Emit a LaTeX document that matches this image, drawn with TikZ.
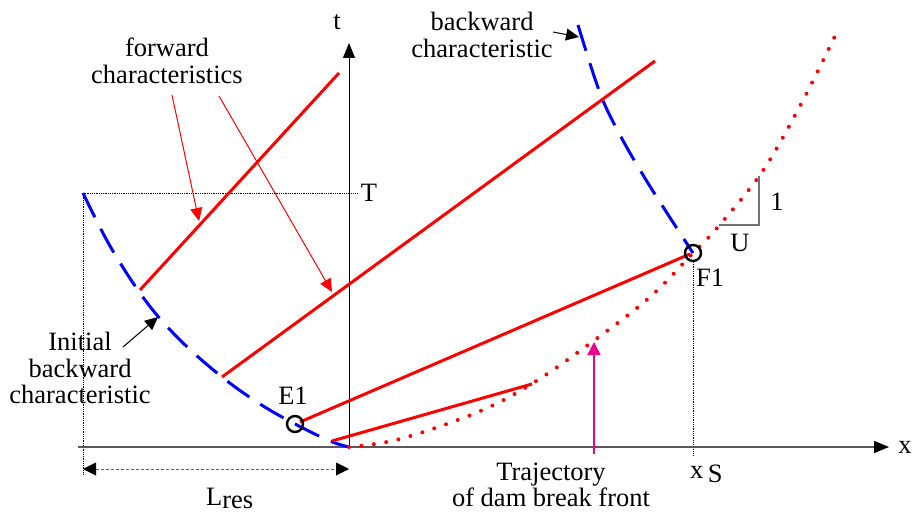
\documentclass[tikz,border=0pt]{standalone}
\usepackage{fontspec}
\setmainfont{Liberation Serif}
\newfontfamily\lserif{Liberation Serif}
\usetikzlibrary{arrows.meta}
\begin{document}
\begin{tikzpicture}[x=1pt,y=-1pt,
  lbl/.style={font=\lserif\fontsize{26.5}{26.5}\selectfont, inner sep=0pt, align=center},
  fwd/.style={red, line width=3pt},
  bwd/.style={blue, line width=3pt, dash pattern=on 27pt off 13pt},
  traj/.style={red, line width=4pt, dash pattern=on 0pt off 12.5pt, line cap=round},
  axisline/.style={line width=1pt, -{Triangle[length=15pt,width=12pt,color=black]}},
  guide/.style={black, line width=0.8pt, densely dotted},
  ptr/.style={red, line width=1pt, -{Triangle[length=13pt,width=12pt]}},
  bptr/.style={black, line width=1pt, -{Triangle[length=13pt,width=12pt]}},
  mark circle/.style={draw=black, line width=2.4pt, circle, minimum size=16pt, inner sep=0pt},
  slope/.style={black!55, line width=1.5pt}
]
\useasboundingbox (0,0) rectangle (915,513);

% key points
\coordinate (O) at (349,447);
\coordinate (xstart) at (78,447);
\coordinate (xend) at (889,447);
\coordinate (tend) at (349,43);
\coordinate (TL) at (83,193);
\coordinate (TR) at (357,193);
\coordinate (TLlow) at (83,475);
\coordinate (A) at (140,290);
\coordinate (Aend) at (339,73);
\coordinate (B) at (222,377);
\coordinate (Bend) at (655,61);
\coordinate (E1p) at (300,422);
\coordinate (F1p) at (690,254);
\coordinate (C) at (332,441);
\coordinate (Cend) at (532,384);
\coordinate (xslow) at (693,455);
\coordinate (F1c) at (693,253);

% guides
\draw[guide] (TL) -- (TR);
\draw[guide] (TL) -- (TLlow);
\draw[guide] (F1c) ++(0,9) -- (xslow);

% axes
\draw[axisline, draw=black!65, line width=1.4pt] (xstart) -- (xend);
\draw[axisline] (O) -- (tend);

% L_res dimension
\coordinate (L1) at (83,469);
\coordinate (L2) at (349,469);
\draw[black!60, line width=1pt, densely dashed,
  {Triangle[length=13pt,width=13pt,color=black]}-{Triangle[length=13pt,width=13pt,color=black]}] (L1) -- (L2);

% initial backward characteristic
\draw[bwd] plot[smooth, tension=0.6] coordinates {(83,193) (110,246) (145,300) (180,340) (222,377) (260,404) (295,424) (330,441) (349,447)};
% backward characteristic
\draw[bwd] plot[smooth, tension=0.6] coordinates {(578,25) (600,93) (620,135) (643,175) (667,213) (693,253)};

% forward characteristics
\draw[fwd] (A) -- (Aend);
\draw[fwd] (B) -- (Bend);
\draw[fwd] (E1p) -- (F1p);
\draw[fwd] (C) -- (Cend);

% trajectory of dam break front
\draw[traj] plot[smooth, tension=0.6] coordinates {(349,447) (400,439) (478,412) (533,383) (592,342) (650,297) (693,253) (717,228) (762,172) (800,106) (837,32)};

% slope triangle
\coordinate (S1) at (719,225);
\coordinate (S2) at (759,225);
\coordinate (S3) at (759,176);
\draw[slope] (S1) -- (S2) -- (S3);

% marked points
\node[mark circle] (E1) at (295,424) {};
\node[mark circle] (F1) at (F1c) {};

% labels
\node[lbl] (tlab) at (337,22) {t};
\node[lbl] (xlab) at (905,447) {x};
\node[lbl] (Tlab) at (369,193) {T};
\node[lbl] (fwdlab) at (167,61) {forward\\[1pt]characteristics};
\node[lbl] (bwdlab) at (482,35) {backward\\characteristic};
\node[lbl] (initlab) at (80,368) {Initial\\backward\\characteristic};
\node[lbl] (E1lab) at (293,396) {E1};
\node[lbl] (F1lab) at (710,278) {F1};
\node[lbl] (onelab) at (777,202) {1};
\node[lbl] (Ulab) at (740,243) {U};
\node[lbl] (trajlab) at (551,485) {Trajectory\\of dam break front};
\node[lbl, anchor=base west] (xslab) at (690,478) {x\,\raisebox{-0.35ex}{S}};
\node[lbl, anchor=base west] (Lres) at (206,505) {L\raisebox{-0.3ex}{res}};

% pointer arrows
\coordinate (p1s) at (172,95);
\coordinate (p1e) at (199,221);
\coordinate (p2s) at (219,96);
\coordinate (p2e) at (332,292);
\draw[ptr] (p1s) -- (p1e);
\draw[ptr] (p2s) -- (p2e);
\coordinate (b1s) at (553,32);
\coordinate (b1e) at (579,37);
\draw[bptr] (b1s) -- (b1e);
\coordinate (b2s) at (123,347);
\coordinate (b2e) at (158,317);
\draw[bptr] (b2s) -- (b2e);
\coordinate (m1s) at (594,454);
\coordinate (m1e) at (594,342);
\draw[magenta, line width=1.5pt, -{Triangle[length=13pt,width=13pt]}] (m1s) -- (m1e);
\end{tikzpicture}
\end{document}
